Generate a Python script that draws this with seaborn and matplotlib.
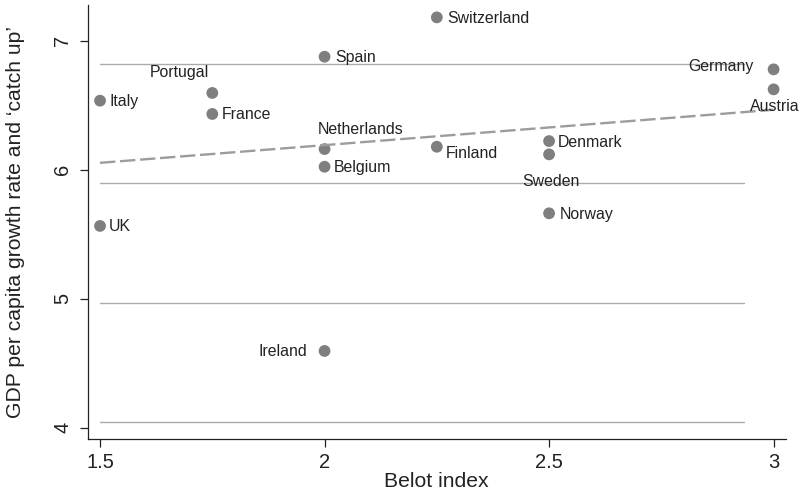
import numpy as np
import pandas as pd
import matplotlib
matplotlib.use("Agg")
import matplotlib.pyplot as plt
import seaborn as sns

# Data
countries = ['Italy', 'Portugal', 'France', 'UK', 'Ireland', 'Switzerland', 'Spain',
             'Netherlands', 'Belgium', 'Finland', 'Denmark', 'Sweden', 'Norway',
             'Germany', 'Austria']
belot = [1.5, 1.75, 1.75, 1.5, 2.0, 2.25, 2.0, 2.0, 2.0, 2.25, 2.5, 2.5, 2.5, 3.0, 3.0]
growth = [6.535, 6.595, 6.432, 5.564, 4.595, 7.181, 6.876, 6.160, 6.023, 6.178,
          6.222, 6.119, 5.662, 6.778, 6.623]

# horizontal reference lines
grid_y = [6.817, 5.894, 4.969, 4.047]
grid_x = [1.5, 2.933]

x_ticks = [1.5, 2, 2.5, 3]
x_tick_labels = ['1.5', '2', '2.5', '3']
y_ticks = [4, 5, 6, 7]
y_tick_labels = ['4', '5', '6', '7']

df = pd.DataFrame({'country': countries, 'belot': belot, 'growth': growth})

# label placement: (dx px, dy px to baseline, ha)
label_pos = {
    'Italy': (9, -5.5, 'left'), 'Portugal': (-3, 15.7, 'right'),
    'France': (9, -5.5, 'left'), 'UK': (9, -5.5, 'left'),
    'Ireland': (-17, -5.5, 'right'), 'Switzerland': (10, -5.5, 'left'),
    'Spain': (11, -5.5, 'left'), 'Netherlands': (-7, 15.3, 'left'),
    'Belgium': (9, -5.5, 'left'), 'Finland': (9, -11.5, 'left'),
    'Denmark': (9, -5.5, 'left'), 'Sweden': (2, -31.4, 'center'),
    'Norway': (11, -5.5, 'left'), 'Germany': (-20, -1.7, 'right'),
    'Austria': (1, -21.7, 'center'),
}

sns.set_style("ticks")
plt.rcParams['font.family'] = ['Liberation Sans', 'DejaVu Sans']
ink = '#222222'

fig = plt.figure(figsize=(8.02, 4.93), dpi=100)
ax = fig.add_axes([0.1094, 0.1089, 0.8703, 0.881])

for gy in grid_y:
    ax.plot(grid_x, [gy, gy], color='#ababab', lw=1.0, zorder=1)

sns.scatterplot(data=df, x='belot', y='growth', color='#7f7f7f', s=72,
                edgecolor='none', ax=ax, zorder=3)
sns.regplot(data=df, x='belot', y='growth', scatter=False, ci=None, ax=ax,
            line_kws=dict(color='#9c9c9c', lw=1.7, dashes=(6.5, 2), zorder=4))

for c, xv, yv in zip(countries, belot, growth):
    dx, dy, ha = label_pos[c]
    ax.annotate(c, (xv, yv), xytext=(dx, dy), textcoords='offset pixels',
                ha=ha, va='baseline', fontsize=11.4, color=ink, zorder=5)

ax.set_xlim(1.4726, 3.027)
ax.set_ylim(3.910, 7.277)
ax.set_xticks(x_ticks)
ax.set_xticklabels(x_tick_labels)
ax.set_yticks(y_ticks)
ax.set_yticklabels(y_tick_labels, rotation=90, ha='right', va='center')

ax.set_xlabel('Belot index', fontsize=15.2, color=ink, labelpad=0)
ax.set_ylabel('GDP per capita growth rate and \u2018catch up\u2019', fontsize=15.2,
              color=ink)
ax.yaxis.set_label_coords(-0.0898, 0.5)

ax.tick_params(axis='both', labelsize=14.5, colors=ink, length=6, width=0.9)
ax.tick_params(axis='x', pad=4)
ax.tick_params(axis='y', pad=5)

sns.despine(ax=ax)
for sp in ['left', 'bottom']:
    ax.spines[sp].set_color(ink)
    ax.spines[sp].set_linewidth(0.9)

fig.savefig('out.png', dpi=100)
